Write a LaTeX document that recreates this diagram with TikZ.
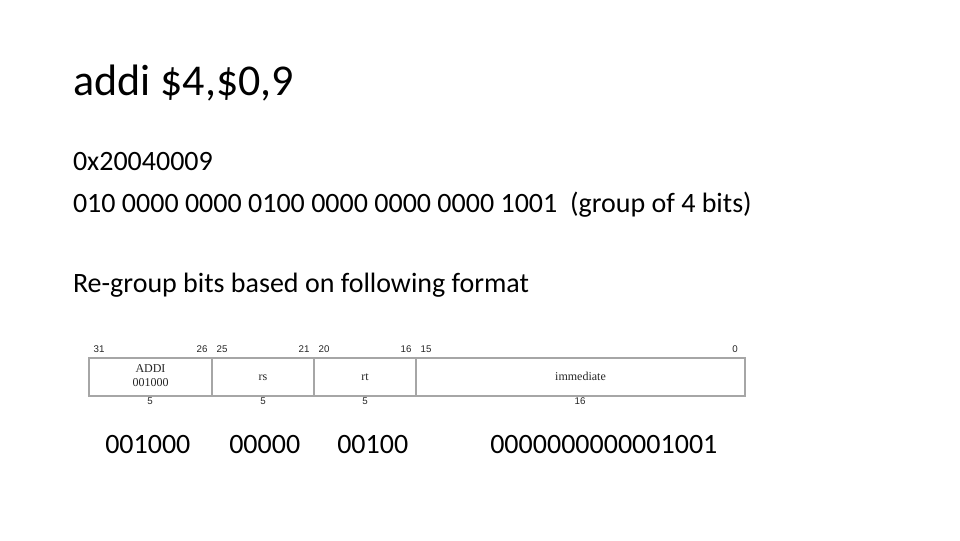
\documentclass[tikz,border=0pt]{standalone}
\usepackage{fontspec}
\setmainfont{Carlito}
\newfontfamily\tabserif{Liberation Serif}
\newfontfamily\tabsans{Liberation Sans}
\begin{document}
\begin{tikzpicture}[x=0.75pt,y=-0.75pt,
  txt/.style={anchor=base west,inner sep=0pt,outer sep=0pt,font=\fontsize{21}{21}\selectfont},
  bignum/.style={anchor=base west,inner sep=0pt,font=\fontsize{21}{21}\selectfont},
  bitno/.style={anchor=base,inner sep=0pt,font=\tabsans\fontsize{7.3}{8}\selectfont,text=black!85},
  field/.style={anchor=base,inner sep=0pt,font=\tabserif\fontsize{9}{9.5}\selectfont,text=black!85},
  cell/.style={draw=gray!70,line width=0.8pt}]
\useasboundingbox (0,0) rectangle (960,540);
\fill[white] (0,0) rectangle (960,540);
% texts
\node[anchor=base west,inner sep=0pt,font=\fontsize{33}{33}\selectfont] (title) at (73,95) {addi \$4,\$0,9};
\node[txt] (hex) at (73,170) {0x20040009};
\node[txt] (bin) at (73,212) {010 0000 0000 0100 0000 0000 0000 1001 \ (group of 4 bits)};
\node[txt] (reg) at (73,292) {Re-group bits based on following format};
% table
\draw[cell] (89,358) rectangle (745,396);
\draw[cell] (212,358) -- (212,396);
\draw[cell] (314,358) -- (314,396);
\draw[cell] (416,358) -- (416,396);
\node[field] (op) at (150.5,372) {ADDI};
\node[field] (opc) at (150.5,386) {001000};
\node[field] (rs) at (263,380) {rs};
\node[field] (rt) at (365,380) {rt};
\node[field] (imm) at (580.5,380) {immediate};
% bit numbers
\node[bitno] (b31) at (99,352) {31};
\node[bitno] (b26) at (202,352) {26};
\node[bitno] (b25) at (222,352) {25};
\node[bitno] (b21) at (304,352) {21};
\node[bitno] (b20) at (324,352) {20};
\node[bitno] (b16) at (406,352) {16};
\node[bitno] (b15) at (426,352) {15};
\node[bitno] (b0) at (735,352) {0};
% widths
\node[bitno] (w1) at (150,404) {5};
\node[bitno] (w2) at (263,404) {5};
\node[bitno] (w3) at (365,404) {5};
\node[bitno] (w4) at (580,404) {16};
% bottom numbers
\node[bignum] (n1) at (105,453) {001000};
\node[bignum] (n2) at (229,453) {00000};
\node[bignum] (n3) at (337,453) {00100};
\node[bignum] (n4) at (490,453) {0000000000001001};
\end{tikzpicture}
\end{document}
